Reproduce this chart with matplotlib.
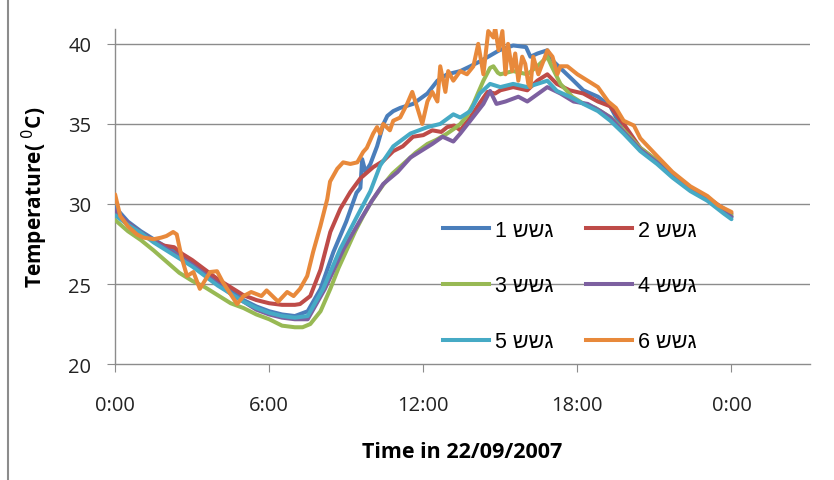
import matplotlib
matplotlib.use("Agg")
import matplotlib.pyplot as plt
from matplotlib.lines import Line2D

# hours since 0:00 and temperature (deg C) for each logger
t1 = [0, 0.5, 1, 1.5, 2, 2.5, 3, 3.5, 4, 4.5, 5, 5.5, 6, 6.5, 7, 7.5, 8, 8.5, 9, 9.4,
      9.55, 9.62, 9.75, 9.94, 10.2, 10.45, 10.6, 10.83, 11.1, 11.6, 12.16, 12.55, 12.93,
      13.44, 13.83, 14.2, 14.53, 14.96, 15.5, 16.0, 16.17, 16.45, 16.83, 17.07, 17.46,
      17.85, 18.23, 18.8, 19.28, 19.8, 20.45, 21.1, 21.7, 22.4, 23.06, 23.7, 24]
T1 = [29.8, 28.9, 28.3, 27.8, 27.3, 26.9, 26.4, 25.8, 25.2, 24.6, 24.0, 23.6, 23.3, 23.1,
      23.0, 23.3, 24.7, 27.0, 28.9, 30.7, 31.0, 32.8, 32.0, 32.5, 33.6, 35.0, 35.5, 35.8,
      36.0, 36.25, 36.9, 37.7, 38.1, 38.3, 38.6, 38.9, 39.2, 39.6, 39.9, 39.8, 39.2, 39.4,
      39.6, 38.9, 38.3, 37.7, 37.1, 36.7, 36.1, 34.5, 33.4, 32.6, 31.75, 30.9, 30.3, 29.6,
      29.2]

t2 = [0, 0.5, 1, 1.5, 1.9, 2.3, 2.6, 3, 3.5, 4, 4.5, 5, 5.5, 6, 6.5, 7, 7.2, 7.6, 8.0,
      8.38, 8.77, 9.16, 9.55, 10.05, 10.45, 10.83, 11.2, 11.6, 12.0, 12.35, 12.7, 12.93,
      13.2, 13.44, 13.83, 14.2, 14.5, 14.8, 15.0, 15.5, 16.05, 16.44, 16.83, 17.2, 17.7,
      18.23, 18.8, 19.28, 19.8, 20.45, 21.1, 21.7, 22.4, 23.06, 23.7, 24]
T2 = [29.5, 28.8, 28.2, 27.7, 27.4, 27.3, 26.9, 26.5, 25.9, 25.3, 24.8, 24.3, 24.0, 23.8,
      23.7, 23.7, 23.75, 24.25, 25.9, 28.25, 29.7, 30.75, 31.6, 32.3, 32.7, 33.3, 33.6,
      34.2, 34.3, 34.6, 34.5, 34.8, 34.9, 34.6, 35.4, 36.3, 37.0, 36.9, 37.1, 37.3, 37.1,
      37.7, 38.1, 37.5, 37.1, 36.9, 36.4, 36.1, 35.0, 33.5, 32.7, 31.8, 31.0, 30.4, 29.7,
      29.4]

t3 = [0, 0.5, 1, 1.5, 2, 2.5, 3, 3.5, 4, 4.5, 5, 5.5, 6, 6.5, 7, 7.3, 7.6, 8.0, 8.38,
      8.7, 9.04, 9.35, 9.66, 10.0, 10.44, 10.8, 11.22, 11.7, 12.16, 12.5, 12.93, 13.2,
      13.44, 13.7, 13.95, 14.15, 14.34, 14.6, 14.73, 14.9, 15.0, 15.5, 16.05, 16.44, 16.83,
      17.0, 17.34, 17.8, 18.2, 18.7, 19.3, 19.8, 20.45, 21.1, 21.7, 22.4, 23.06, 23.7, 24]
T3 = [29.0, 28.3, 27.75, 27.1, 26.4, 25.7, 25.2, 24.8, 24.3, 23.8, 23.5, 23.1, 22.8,
      22.4, 22.3, 22.3, 22.5, 23.3, 24.7, 26.0, 27.2, 28.3, 29.25, 30.2, 31.2, 31.9, 32.5,
      33.2, 33.75, 34.0, 34.4, 34.7, 35.0, 35.5, 36.25, 37.0, 37.7, 38.5, 38.6, 38.2, 38.1,
      38.3, 38.1, 38.6, 39.2, 38.6, 37.5, 36.7, 36.3, 36.0, 35.4, 34.6, 33.5, 32.7, 31.8,
      31.0, 30.3, 29.6, 29.3]

t4 = [0, 0.5, 1, 1.5, 2, 2.5, 3, 3.5, 4, 4.5, 5, 5.5, 6, 6.5, 7, 7.5, 8.17, 8.9, 9.55,
      10.0, 10.44, 11.0, 11.5, 12.35, 12.75, 13.17, 13.44, 13.83, 14.34, 14.6, 14.85,
      15.2, 15.7, 16.05, 16.83, 17.34, 17.85, 18.4, 18.9, 19.28, 19.8, 20.45, 21.1, 21.7,
      22.4, 23.06, 23.7, 24]
T4 = [29.6, 28.8, 28.2, 27.7, 27.2, 26.7, 26.2, 25.6, 25.0, 24.4, 23.9, 23.4, 23.1,
      22.9, 22.8, 22.8, 24.7, 27.2, 29.0, 30.2, 31.25, 32.0, 32.9, 33.75, 34.2, 33.9,
      34.4, 35.2, 36.25, 37.06, 36.25, 36.4, 36.7, 36.4, 37.3, 36.9, 36.4, 36.25, 35.8,
      35.4, 34.5, 33.4, 32.6, 31.7, 30.9, 30.3, 29.5, 29.2]

t5 = [0, 0.5, 1, 1.5, 2, 2.5, 3, 3.5, 4, 4.5, 5, 5.5, 6, 6.5, 7, 7.5, 8.1, 8.77, 9.43,
      9.94, 10.32, 10.83, 11.5, 12.16, 12.66, 13.17, 13.44, 13.83, 14.2, 14.6, 15.0,
      15.5, 16.05, 16.44, 16.83, 17.2, 17.7, 18.23, 18.8, 19.28, 19.8, 20.45, 21.1, 21.7,
      22.4, 23.06, 23.7, 24]
T5 = [29.3, 28.7, 28.2, 27.6, 27.1, 26.6, 26.1, 25.5, 24.9, 24.4, 23.9, 23.5, 23.2,
      23.0, 22.9, 23.0, 24.7, 27.2, 29.25, 30.8, 32.4, 33.6, 34.4, 34.8, 35.0, 35.6, 35.4,
      35.8, 36.9, 37.5, 37.3, 37.5, 37.3, 37.5, 37.7, 37.06, 36.7, 36.25, 35.8, 35.2, 34.4,
      33.3, 32.5, 31.65, 30.8, 30.2, 29.4, 29.05]

t6 = [0, 0.2, 0.5, 0.85, 1.1, 1.5, 1.8, 2.0, 2.26, 2.4, 2.6, 2.8, 3.05, 3.3, 3.7, 3.97,
      4.2, 4.75, 5.0, 5.3, 5.7, 5.9, 6.35, 6.7, 6.95, 7.2, 7.48, 7.71, 7.99, 8.26, 8.37,
      8.65, 8.88, 9.16, 9.43, 9.66, 9.8, 10.05, 10.2, 10.32, 10.44, 10.7, 10.83, 11.1,
      11.37, 11.57, 11.77, 11.96, 12.16, 12.35, 12.55, 12.66, 12.86, 12.97, 13.17, 13.44,
      13.7, 13.95, 14.14, 14.34, 14.53, 14.73, 14.8, 14.93, 15.08, 15.2, 15.3, 15.46,
      15.58, 15.7, 15.85, 15.97, 16.09, 16.17, 16.28, 16.48, 16.67, 16.83, 17.03, 17.22,
      17.34, 17.61, 18.0, 18.4, 18.8, 19.2, 19.5, 19.8, 20.2, 20.45, 21.1, 21.7, 22.4,
      23.06, 23.5, 24]
T6 = [30.6, 29.25, 28.6, 28.1, 27.9, 27.8, 27.9, 28.0, 28.25, 28.1, 26.6, 25.5, 25.75,
      24.7, 25.75, 25.8, 25.1, 23.75, 24.25, 24.5, 24.25, 24.6, 23.9, 24.5, 24.25, 24.7,
      25.5, 27.0, 28.6, 30.3, 31.4, 32.2, 32.6, 32.5, 32.6, 33.25, 33.5, 34.4, 34.8, 34.4,
      35.0, 34.6, 35.2, 35.4, 36.25, 37.0, 36.0, 35.0, 36.4, 37.0, 36.4, 38.6, 37.0, 38.3,
      37.7, 38.3, 38.1, 38.6, 40.0, 38.1, 40.8, 40.4, 41.0, 39.6, 40.8, 38.1, 40.0, 38.3,
      39.4, 37.7, 39.2, 38.75, 37.5, 37.3, 39.2, 38.1, 38.9, 39.6, 39.2, 38.1, 38.6, 38.6,
      38.1, 37.7, 37.3, 36.4, 36.0, 35.2, 34.9, 34.1, 33.0, 32.0, 31.1, 30.5, 29.9, 29.5]

labels = ["1 ששג", "2 ששג", "3 ששג", "4 ששג", "5 ששג", "6 ששג"]
colors = ["#4A7EBB", "#BE4B48", "#98B954", "#7D60A0", "#46AAC5", "#E8893B"]
xticks = [0, 6, 12, 18, 24]
xticklabels = ["0:00", "6:00", "12:00", "18:00", "0:00"]
yticks = [20, 25, 30, 35, 40]

series = [(t1, T1), (t2, T2), (t3, T3), (t4, T4), (t5, T5), (t6, T6)]

fig = plt.figure(figsize=(8.34, 4.81), dpi=100)
ax = fig.add_axes([0.138, 0.241, 0.833, 0.697])

grid_c = "#8C8C8C"
for y in yticks[1:]:
    ax.axhline(y, color=grid_c, lw=1.0, zorder=1)

for (t, T), c in zip(series, colors):
    ax.plot(t, T, color=c, lw=2.9, solid_joinstyle="round", solid_capstyle="round", zorder=3)

ax.set_xlim(0, 27.05)
ax.set_ylim(20, 40.94)
ax.set_xticks(xticks)
ax.set_xticklabels(xticklabels)
ax.set_yticks(yticks)
for s in ["top", "right"]:
    ax.spines[s].set_visible(False)
for s in ["left", "bottom"]:
    ax.spines[s].set_color(grid_c)
    ax.spines[s].set_linewidth(1.0)
ax.tick_params(axis="x", direction="out", length=6, color=grid_c, pad=16,
               labelsize=14.5, labelcolor="#222222")
ax.tick_params(axis="y", direction="out", length=6, color=grid_c, pad=11,
               labelsize=14.5, labelcolor="#222222")
for lab in ax.get_xticklabels() + ax.get_yticklabels():
    lab.set_family("Open Sans")

ax.set_xlabel("Time in 22/09/2007", fontsize=15.5, fontweight="bold",
              family="Open Sans", labelpad=19)
ax.set_ylabel("Temperature( $^{0}$C)", fontsize=15, fontweight="bold",
              family="Open Sans", labelpad=13)

# legend filled row by row like the original
order = [0, 2, 4, 1, 3, 5]
handles = [Line2D([], [], color=colors[i], lw=2.9) for i in order]
leg = ax.legend(handles, [labels[i] for i in order], ncol=2, loc="upper left",
                bbox_to_anchor=(0.456, 0.463), frameon=False, borderpad=0,
                handlelength=2.15, handletextpad=0.28, columnspacing=1.5,
                labelspacing=1.62, prop={"family": "Liberation Sans", "size": 15.5})

# thin border at the left of the picture
fig.add_artist(Line2D([0.0096, 0.0096], [0.0, 1.0], color="#8C8C8C", lw=1.5,
                      transform=fig.transFigure))

fig.savefig("out.png", dpi=100)
